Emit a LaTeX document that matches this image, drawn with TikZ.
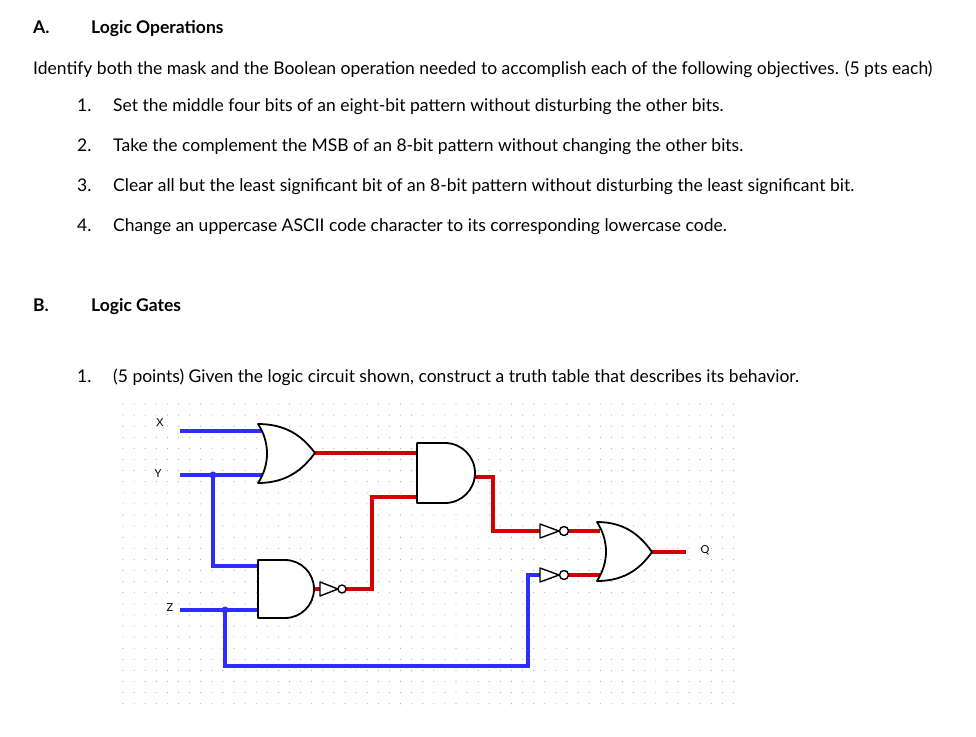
\documentclass[tikz,border=0pt]{standalone}
\usepackage{fontspec}
\setmainfont{Lato}
\begin{document}
\begin{tikzpicture}[x=1pt,y=-1pt,
  txt/.style={anchor=base west,inner sep=0pt,font=\fontsize{17.5}{20}\selectfont},
  hd/.style={txt,font=\fontsize{17.5}{20}\selectfont\bfseries},
  lbl/.style={inner sep=0pt,font=\fontsize{11}{13}\selectfont},
  gate/.style={draw=black,line width=1.8pt,fill=white,line join=round},
  bw/.style={draw={rgb,255:red,45;green,45;blue,255},line width=3.2pt},
  rw/.style={draw={rgb,255:red,210;green,0;blue,0},line width=3.2pt},
  dot/.style={fill={rgb,255:red,45;green,45;blue,255}}]
\useasboundingbox (0,0) rectangle (976,736);
\fill[white] (0,0) rectangle (976,736);
% text
\node[hd] (ha) at (33,33) {A.};
\node[hd] (hat) at (91,33) {Logic Operations};
\node[txt] (intro) at (33,74) {Identify both the mask and the Boolean operation needed to accomplish each of the following objectives. (5 pts each)};
\node[txt] (n1) at (77,111) {1.};
\node[txt] (t1) at (113,111) {Set the middle four bits of an eight-bit pattern without disturbing the other bits.};
\node[txt] (n2) at (77,151) {2.};
\node[txt] (t2) at (113,151) {Take the complement the MSB of an 8-bit pattern without changing the other bits.};
\node[txt] (n3) at (77,191) {3.};
\node[txt] (t3) at (113,191) {Clear all but the least significant bit of an 8-bit pattern without disturbing the least significant bit.};
\node[txt] (n4) at (77,231) {4.};
\node[txt] (t4) at (113,231) {Change an uppercase ASCII code character to its corresponding lowercase code.};
\node[hd] (hb) at (33,311) {B.};
\node[hd] (hbt) at (91,311) {Logic Gates};
\node[txt] (m1) at (77,382) {1.};
\node[txt] (mt1) at (113,382) {(5 points) Given the logic circuit shown, construct a truth table that describes its behavior.};
% grid dots
\foreach \i in {0,...,55} \foreach \j in {0,...,27}
  \fill[gray!70] (123+\i*11.1,404+\j*11.1) circle (0.55);
% labels
\node[lbl] (lx) at (160,423) {X};
\node[lbl] (ly) at (158,474) {Y};
\node[lbl] (lz) at (170,608) {Z};
\node[lbl] (lq) at (705,550) {Q};
% wires blue
\coordinate (jy) at (213,475);
\coordinate (jz) at (225,610);
\draw[bw] (180,431) -- (262,431);
\draw[bw] (180,475) -- (262,475);
\draw[bw] (jy) -- (213,566) -- (262,566);
\draw[bw] (180,610) -- (262,610);
\draw[bw] (jz) -- (225,666) -- (528,666) -- (528,575) -- (540,575);
\fill[dot] (jy) circle (3.5);
\fill[dot] (jz) circle (3.5);
% red wires
\draw[rw] (312,453) -- (417,453);
\draw[rw] (344,589) -- (372,589) -- (372,497) -- (417,497);
\draw[rw] (313,589) -- (320,589);
\draw[rw] (468,477) -- (493,477) -- (493,531) -- (540,531);
\draw[rw] (566,531) -- (600,531);
\draw[rw] (566,575) -- (600,575);
\draw[rw] (650,552) -- (686,552);
% OR gate 1
\draw[gate] (258,424) .. controls (290,424) and (305,440) .. (315,453)
  .. controls (305,466) and (290,483) .. (258,483)
  .. controls (270,465) and (270,442) .. (258,424) -- cycle;
% AND gate 2
\draw[gate] (417,443) -- (445,443) arc (-90:90:30) -- (417,503) -- cycle;
% AND gate lower
\draw[gate] (258,560) -- (285,560) arc (-90:90:29) -- (258,618) -- cycle;
% inverter lower
\draw[gate,line width=1.4pt] (320,582) -- (338,589) -- (320,596) -- cycle;
\draw[gate,line width=1.4pt] (342,589) circle (4);
% inverters right
\draw[gate,line width=1.4pt] (540,524) -- (559,531) -- (540,538) -- cycle;
\draw[gate,line width=1.4pt] (564,531) circle (4.5);
\draw[gate,line width=1.4pt] (540,568) -- (559,575) -- (540,582) -- cycle;
\draw[gate,line width=1.4pt] (564,575) circle (4.5);
% OR gate 3
\draw[gate] (597,522) .. controls (627,522) and (642,538) .. (652,552)
  .. controls (642,566) and (627,581) .. (597,581)
  .. controls (609,562) and (609,541) .. (597,522) -- cycle;
\end{tikzpicture}
\end{document}
